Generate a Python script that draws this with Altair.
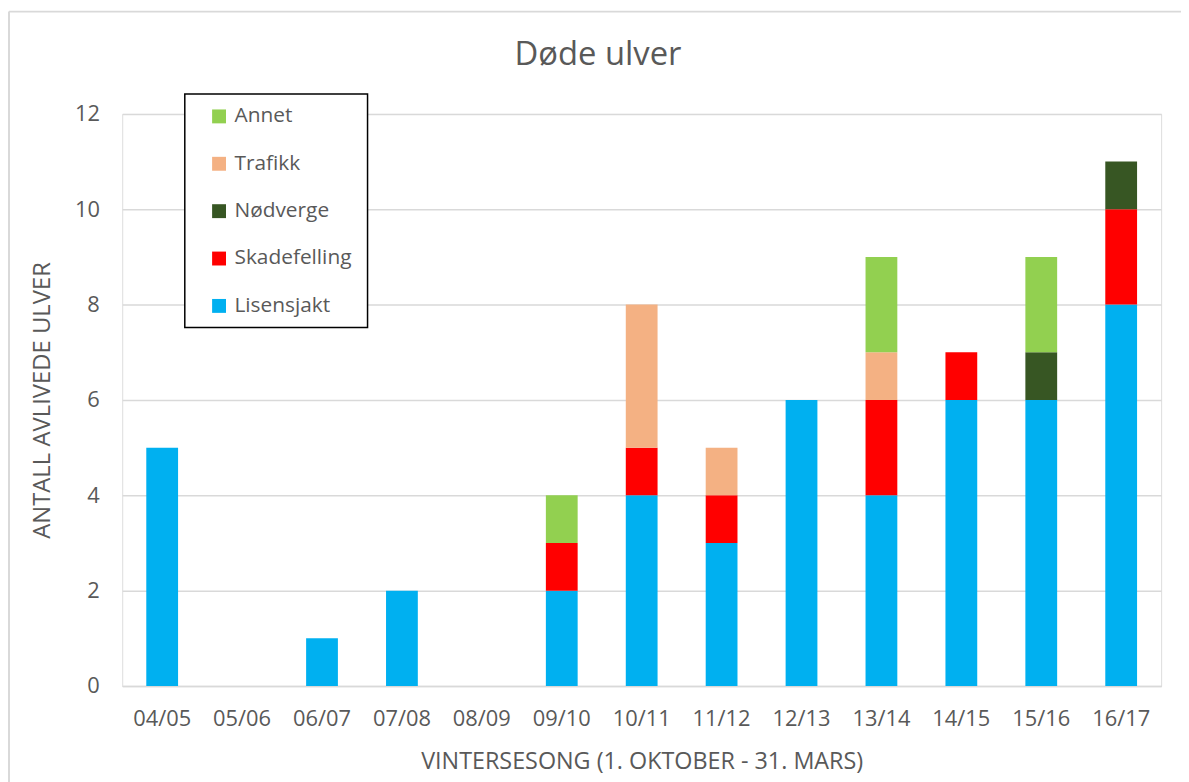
import altair as alt
import pandas as pd

seasons = ["04/05", "05/06", "06/07", "07/08", "08/09", "09/10", "10/11",
           "11/12", "12/13", "13/14", "14/15", "15/16", "16/17"]
lisensjakt   = [5, 0, 1, 2, 0, 2, 4, 3, 6, 4, 6, 6, 8]
skadefelling = [0, 0, 0, 0, 0, 1, 1, 1, 0, 2, 1, 0, 2]
nodverge     = [0, 0, 0, 0, 0, 0, 0, 0, 0, 0, 0, 1, 1]
trafikk      = [0, 0, 0, 0, 0, 0, 3, 1, 0, 1, 0, 0, 0]
annet        = [0, 0, 0, 0, 0, 1, 0, 0, 0, 2, 0, 2, 0]

series_names = ["Lisensjakt", "Skadefelling", "Nødverge", "Trafikk", "Annet"]
series_vals = [lisensjakt, skadefelling, nodverge, trafikk, annet]
series_colors = ["#00B0F0", "#FF0000", "#375623", "#F4B183", "#92D050"]

rows = []
for k, (name, vals) in enumerate(zip(series_names, series_vals)):
    for s, v in zip(seasons, vals):
        if v > 0:
            rows.append({"season": s, "type": name, "value": v, "ord": k})
df = pd.DataFrame(rows)

FONT = "Open Sans"
TXT = "#595959"
GRID = "#D9D9D9"

legend_order = list(reversed(series_names))
legend_colors = list(reversed(series_colors))

bars = alt.Chart(df).mark_bar(size=32).encode(
    x=alt.X("season:N", sort=seasons, scale=alt.Scale(domain=seasons, paddingInner=0.6, paddingOuter=0.3),
            axis=alt.Axis(title="VINTERSESONG (1. OKTOBER - 31. MARS)", labelAngle=0,
                          labelFontSize=22, labelColor=TXT, labelFont=FONT, labelPadding=23,
                          titleFontSize=23.5, titleColor=TXT, titleFont=FONT, titleFontWeight="normal",
                          titlePadding=20, ticks=False, domainColor=GRID, domainWidth=1.5)),
    y=alt.Y("value:Q", stack="zero", scale=alt.Scale(domain=[0, 12], nice=False),
            axis=alt.Axis(title="ANTALL AVLIVEDE ULVER", values=[0, 2, 4, 6, 8, 10, 12],
                          labelFontSize=22, labelColor=TXT, labelFont=FONT, labelPadding=23,
                          titleFontSize=24, titleColor=TXT, titleFont=FONT, titleFontWeight="normal",
                          titlePadding=20, ticks=False, domain=False, gridColor=GRID, gridWidth=1.5)),
    color=alt.Color("type:N", scale=alt.Scale(domain=legend_order, range=legend_colors),
                    legend=alt.Legend(title=None, orient="none", legendX=87, legendY=-8,
                                      direction="vertical", padding=0,
                                      symbolType="square", symbolSize=196, symbolStrokeWidth=0,
                                      symbolOffset=0, labelFontSize=21, labelColor=TXT, labelFont=FONT,
                                      labelOffset=5, rowPadding=25.7)),
    order=alt.Order("ord:Q", sort="ascending"),
)

aux_df = pd.DataFrame({"t": ["Døde ulver"]})

legend_box = alt.Chart(aux_df).mark_rect(fill="white", stroke="black", strokeWidth=1.5).encode(
    x=alt.value(63), x2=alt.value(247), y=alt.value(-20), y2=alt.value(215))

title = alt.Chart(aux_df).mark_text(fontSize=33, font=FONT, color=TXT, align="center",
                                    baseline="middle").encode(
    text="t:N", x=alt.value(479), y=alt.value(-59))

border_top = alt.Chart(aux_df).mark_rule(color=GRID, strokeWidth=2).encode(
    x=alt.value(-114), x2=alt.value(1070), y=alt.value(-103))
border_left = alt.Chart(aux_df).mark_rule(color=GRID, strokeWidth=2).encode(
    x=alt.value(-114), y=alt.value(-103), y2=alt.value(720))

chart = alt.layer(border_top, border_left, bars, legend_box, title).properties(
    width=1046, height=576,
    autosize=alt.AutoSizeParams(type="none"),
    padding={"left": 115, "top": 104, "right": 20, "bottom": 96},
).configure_view(stroke=None).configure(background="white")

chart.save("out.html", embed_options={"renderer": "svg", "actions": False})
